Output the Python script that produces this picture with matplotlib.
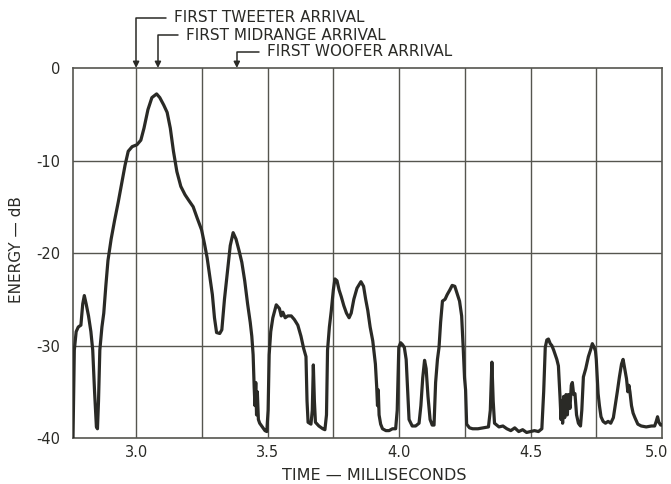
import matplotlib
matplotlib.use("Agg")
import matplotlib.pyplot as plt
import matplotlib.transforms as mtransforms

plt.rcParams['axes.unicode_minus'] = False
plt.rcParams['font.family'] = ['DejaVu Sans']

# energy-time curve (time in ms, energy in dB)
time_ms = [2.760, 2.762, 2.765, 2.772, 2.780, 2.790, 2.797, 2.803, 2.810, 2.819,
           2.828, 2.835, 2.842, 2.849, 2.853, 2.857, 2.862, 2.870, 2.877, 2.885,
           2.893, 2.905, 2.918, 2.932, 2.945, 2.958, 2.970, 2.985, 3.003, 3.018,
           3.030, 3.045, 3.060, 3.078, 3.090, 3.105, 3.118, 3.130, 3.142, 3.155,
           3.170, 3.186, 3.200, 3.217, 3.232, 3.249, 3.260, 3.270, 3.280, 3.290,
           3.298, 3.306, 3.318, 3.326, 3.336, 3.348, 3.358, 3.369, 3.380, 3.392,
           3.402, 3.413, 3.424, 3.434, 3.440, 3.445, 3.449, 3.452, 3.455, 3.458,
           3.461, 3.465, 3.470, 3.480, 3.490, 3.497, 3.502, 3.506, 3.512, 3.520,
           3.533, 3.545, 3.552, 3.558, 3.567, 3.577, 3.590, 3.602, 3.615, 3.627,
           3.637, 3.646, 3.650, 3.654, 3.665, 3.670, 3.674, 3.678, 3.682, 3.695,
           3.710, 3.718, 3.724, 3.728, 3.735, 3.742, 3.750, 3.756, 3.764, 3.772,
           3.780, 3.790, 3.800, 3.810, 3.818, 3.828, 3.840, 3.855, 3.865, 3.873,
           3.881, 3.890, 3.900, 3.910, 3.915, 3.918, 3.921, 3.924, 3.930, 3.937,
           3.950, 3.962, 3.975, 3.987, 3.993, 3.999, 4.006, 4.013, 4.020, 4.027,
           4.033, 4.038, 4.050, 4.063, 4.076, 4.083, 4.090, 4.097, 4.103, 4.110,
           4.118, 4.126, 4.133, 4.139, 4.146, 4.152, 4.158, 4.165, 4.175, 4.183,
           4.193, 4.202, 4.212, 4.222, 4.230, 4.238, 4.244, 4.249, 4.253, 4.257,
           4.268, 4.280, 4.300, 4.320, 4.340, 4.347, 4.353, 4.358, 4.363, 4.380,
           4.395, 4.410, 4.425, 4.440, 4.455, 4.470, 4.485, 4.500, 4.515, 4.530,
           4.543, 4.550, 4.556, 4.562, 4.568, 4.575, 4.581, 4.588, 4.594, 4.600,
           4.606, 4.612, 4.616, 4.619, 4.622, 4.626, 4.630, 4.635, 4.640, 4.644,
           4.650, 4.655, 4.659, 4.664, 4.669, 4.675, 4.682, 4.690, 4.695, 4.701,
           4.710, 4.720, 4.728, 4.735, 4.742, 4.747, 4.750, 4.753, 4.757, 4.762,
           4.768, 4.776, 4.785, 4.795, 4.805, 4.815, 4.822, 4.830, 4.838, 4.846,
           4.852, 4.858, 4.865, 4.870, 4.874, 4.878, 4.884, 4.890, 4.897, 4.908,
           4.921, 4.940, 4.960, 4.972, 4.978, 4.983, 4.988, 4.995, 5.000]
energy_db = [-40.0, -36.0, -30.5, -28.5, -28.0, -27.8, -25.5, -24.6, -25.5, -26.8,
             -28.5, -30.5, -35.0, -38.8, -39.0, -36.0, -30.5, -28.0, -26.5, -23.5,
             -20.8, -18.5, -16.5, -14.5, -12.5, -10.5, -9.0, -8.5, -8.3, -7.8,
             -6.5, -4.5, -3.2, -2.8, -3.2, -4.0, -4.8, -6.5, -9.0, -11.2,
             -12.8, -13.7, -14.3, -15.0, -16.2, -17.5, -19.0, -20.5, -22.5, -24.5,
             -27.0, -28.6, -28.7, -28.3, -25.0, -21.8, -19.2, -17.8, -18.5, -19.8,
             -21.0, -23.0, -25.5, -27.5, -29.0, -31.0, -34.5, -36.5, -34.0, -37.5,
             -35.0, -38.0, -38.4, -38.8, -39.2, -39.3, -37.0, -31.0, -28.5, -27.0,
             -25.6, -26.0, -26.8, -26.4, -27.0, -26.8, -26.8, -27.2, -27.8, -29.0,
             -30.3, -31.2, -36.0, -38.3, -38.5, -37.0, -32.1, -36.0, -38.3, -38.7,
             -39.0, -39.1, -37.5, -30.5, -28.0, -26.3, -24.0, -22.8, -23.0, -24.0,
             -24.7, -25.7, -26.5, -27.0, -26.5, -25.0, -23.8, -23.1, -23.6, -25.0,
             -26.2, -28.0, -29.5, -32.0, -34.5, -36.5, -34.8, -37.5, -38.5, -39.0,
             -39.2, -39.2, -39.0, -39.0, -37.0, -30.2, -29.7, -29.9, -30.2, -31.5,
             -35.0, -38.0, -38.7, -38.7, -38.4, -36.5, -33.5, -31.6, -32.5, -35.5,
             -38.0, -38.6, -38.6, -34.0, -31.5, -30.2, -27.5, -25.2, -25.0, -24.5,
             -24.0, -23.5, -23.6, -24.5, -25.2, -26.8, -30.3, -33.5, -34.8, -38.5,
             -38.9, -39.0, -39.0, -38.9, -38.8, -37.0, -31.8, -36.0, -38.4, -38.8,
             -38.7, -39.0, -39.2, -38.9, -39.3, -39.1, -39.4, -39.3, -39.2, -39.3,
             -39.0, -35.0, -30.2, -29.4, -29.3, -29.8, -30.0, -30.5, -31.0, -31.5,
             -32.2, -35.5, -38.0, -36.0, -38.4, -35.5, -37.8, -35.3, -37.5, -35.3,
             -36.8, -34.3, -34.0, -35.3, -35.2, -37.5, -38.4, -38.7, -37.0, -33.4,
             -32.5, -31.2, -30.5, -29.8, -30.2, -30.6, -31.5, -33.0, -35.2, -36.5,
             -37.7, -38.2, -38.4, -38.2, -38.4, -37.8, -36.5, -35.0, -33.4, -32.0,
             -31.5, -32.5, -33.6, -35.0, -34.3, -35.0, -36.5, -37.3, -37.8, -38.5,
             -38.7, -38.8, -38.7, -38.7, -38.2, -37.7, -38.3, -38.6, -38.6]

x_ticks = [3.0, 3.5, 4.0, 4.5, 5.0]
x_tick_labels = ["3.0", "3.5", "4.0", "4.5", "5.0"]
y_ticks = [0, -10, -20, -30, -40]
y_tick_labels = ["0", "-10", "-20", "-30", "-40"]
x_grid = [3.0, 3.25, 3.5, 3.75, 4.0, 4.25, 4.5, 4.75]
y_grid = [-10, -20, -30]

arrival_names = ["FIRST TWEETER ARRIVAL", "FIRST MIDRANGE ARRIVAL", "FIRST WOOFER ARRIVAL"]
arrival_times = [3.0, 3.083, 3.383]

ink = "#2a2a26"

fig = plt.figure(figsize=(6.71, 4.84), dpi=100)
ax = fig.add_axes([0.1088, 0.095, 0.8778, 0.7645])

for gx in x_grid:
    ax.axvline(gx, color="#55554f", lw=1.0, zorder=1)
for gy in y_grid:
    ax.axhline(gy, color="#55554f", lw=1.0, zorder=1)

ax.plot(time_ms, energy_db, color=ink, lw=2.3, zorder=3, solid_joinstyle="round")

ax.set_xlim(2.76, 5.0)
ax.set_ylim(-40, 0)
ax.set_xticks(x_ticks)
ax.set_xticklabels(x_tick_labels)
ax.set_yticks(y_ticks)
ax.set_yticklabels(y_tick_labels)
ax.tick_params(length=0, labelsize=10.5, colors=ink)
ax.tick_params(axis="x", pad=5)
ax.tick_params(axis="y", pad=9)
for s in ax.spines.values():
    s.set_color("#55554f")
    s.set_linewidth(1.2)

# the last x label sits a little left so it stays inside the picture
last = ax.get_xticklabels()[-1]
last.set_transform(last.get_transform() +
                   mtransforms.ScaledTranslation(-4 / 72, 0, fig.dpi_scale_trans))

fig.text(374 / 671, 9 / 484, "TIME — MILLISECONDS", fontsize=11.5, color=ink,
         ha="center", va="center")
fig.text(17 / 671, 1 - 250 / 484, "ENERGY — dB", fontsize=11, color=ink,
         ha="center", va="center", rotation=90)

# leader lines with arrows for the driver arrivals
text_pos = [(174, 466), (186, 449), (267, 432)]
for name, t, pos in zip(arrival_names, arrival_times, text_pos):
    ax.annotate(name, xy=(t, 0), xycoords="data",
                xytext=pos, textcoords="figure pixels",
                ha="left", va="center", fontsize=11, color=ink,
                arrowprops=dict(arrowstyle="-|>", color=ink, lw=1.1,
                                mutation_scale=9, shrinkA=4, shrinkB=0,
                                relpos=(0, 0.5),
                                connectionstyle="angle,angleA=0,angleB=90,rad=0"),
                annotation_clip=False)

fig.savefig("out.png", dpi=100)
